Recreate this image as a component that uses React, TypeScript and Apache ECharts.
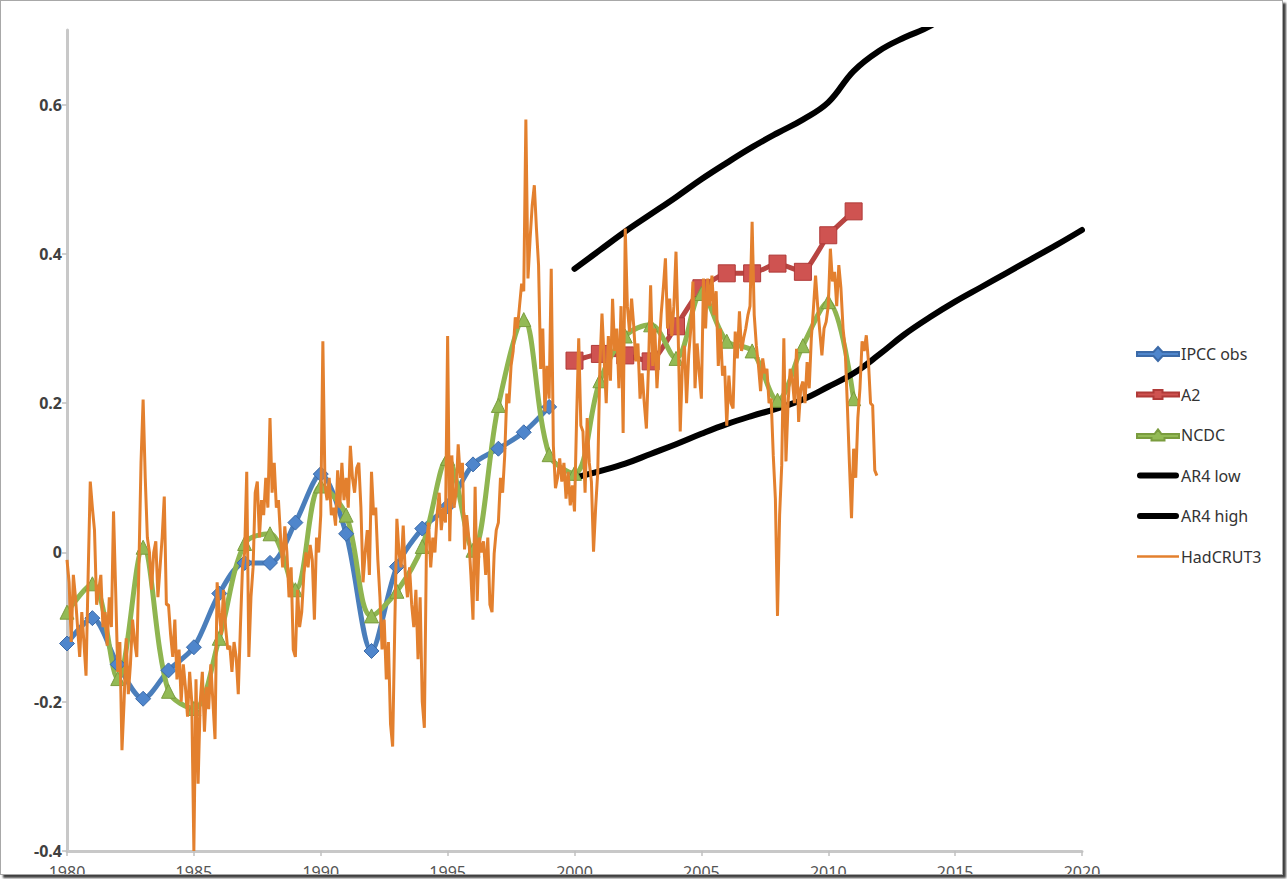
import React, { useEffect, useRef } from "react";
import * as echarts from "echarts";

// ---- Data ----
const ipccYears = [1980, 1981, 1982, 1983, 1984, 1985, 1986, 1987, 1988, 1989, 1990, 1991, 1992, 1993, 1994, 1995, 1996, 1997, 1998, 1999];
const ipccObs = [-0.122, -0.088, -0.15, -0.196, -0.158, -0.127, -0.055, -0.014, -0.014, 0.04, 0.105, 0.025, -0.132, -0.019, 0.032, 0.062, 0.118, 0.139, 0.161, 0.195];

const a2Years = [2000, 2001, 2002, 2003, 2004, 2005, 2006, 2007, 2008, 2009, 2010, 2011];
const a2 = [0.257, 0.266, 0.264, 0.256, 0.303, 0.354, 0.374, 0.374, 0.387, 0.376, 0.425, 0.457];

const ncdcYears = [1980, 1981, 1982, 1983, 1984, 1985, 1986, 1987, 1988, 1989, 1990, 1991, 1992, 1993, 1994, 1995, 1996, 1997, 1998, 1999, 2000, 2001, 2002, 2003, 2004, 2005, 2006, 2007, 2008, 2009, 2010, 2011];
const ncdc = [-0.08, -0.042, -0.169, 0.007, -0.186, -0.209, -0.115, 0.012, 0.025, -0.05, 0.089, 0.05, -0.085, -0.052, 0.008, 0.126, 0.003, 0.197, 0.312, 0.131, 0.106, 0.23, 0.29, 0.305, 0.26, 0.347, 0.283, 0.27, 0.204, 0.277, 0.336, 0.206];

const ar4LowYears = [2000, 2001, 2002, 2003, 2004, 2005, 2006, 2007, 2008, 2009, 2010, 2011, 2012, 2013, 2014, 2015, 2016, 2017, 2018, 2019, 2020];
const ar4Low = [0.1, 0.109, 0.119, 0.132, 0.145, 0.159, 0.172, 0.183, 0.193, 0.205, 0.222, 0.24, 0.265, 0.292, 0.315, 0.336, 0.355, 0.374, 0.393, 0.412, 0.432];

const ar4HighYears = [2000, 2001, 2002, 2003, 2004, 2005, 2006, 2007, 2008, 2009, 2010, 2011, 2012, 2013, 2014, 2015];
const ar4High = [0.38, 0.405, 0.43, 0.453, 0.476, 0.5, 0.522, 0.543, 0.562, 0.58, 0.603, 0.645, 0.672, 0.69, 0.705, 0.73];

// HadCRUT3 monthly anomalies, Jan 1980 .. Dec 2011 (12 per row)
const hadcrutStart = 1980;
const hadcrut3 = [
  -0.01, -0.04, -0.12, -0.03, -0.06, -0.1, -0.14, -0.08, -0.12, -0.165, -0.03, 0.095,
  0.06, 0.03, -0.07, -0.05, -0.03, -0.1, -0.08, -0.125, -0.06, -0.1, 0.055, -0.05,
  -0.16, -0.12, -0.265, -0.2, -0.115, -0.19, -0.15, -0.09, -0.12, -0.14, -0.02, 0.12,
  0.205, 0.1, 0.02, 0.0, -0.05, 0.0, 0.015, -0.06, -0.02, 0.02, 0.075, -0.07,
  -0.07, -0.11, -0.14, -0.09, -0.17, -0.13, -0.2, -0.15, -0.18, -0.22, -0.16, -0.2,
  -0.4, -0.17, -0.31, -0.2, -0.16, -0.24, -0.18, -0.21, -0.15, -0.2, -0.25, -0.04,
  -0.08, -0.11, -0.05, -0.1, -0.13, -0.125, -0.16, -0.12, -0.14, -0.19, -0.1, -0.02,
  0.0, 0.108, -0.14, -0.06, -0.02, 0.08, 0.095, 0.02, 0.07, 0.05, 0.1, 0.06,
  0.18, 0.08, 0.12, 0.06, 0.07, 0.02, -0.02, 0.035, 0.0, -0.06, -0.02, -0.13,
  -0.14, -0.05, -0.1, -0.08, -0.03, 0.0, -0.02, 0.01, -0.01, -0.09, 0.02, 0.0,
  0.05, 0.283, 0.09, 0.07, 0.1, 0.05, 0.06, 0.036, 0.11, 0.06, 0.12, 0.07,
  0.1, 0.06, 0.143, 0.1, 0.08, 0.113, 0.12, 0.06, -0.04, 0.0, 0.03, -0.03,
  0.108, 0.05, 0.06, -0.01, -0.06, -0.13, -0.09, -0.17, -0.12, -0.23, -0.26, -0.1,
  0.045, 0.0, -0.02, 0.036, -0.03, -0.06, -0.02, -0.07, -0.1, -0.05, -0.143, -0.06,
  -0.2, -0.235, 0.013, 0.04, -0.02, 0.02, 0.0, 0.05, 0.08, 0.03, 0.06, 0.04,
  0.29, 0.015, 0.13, 0.06, 0.08, 0.145, 0.1, 0.12, 0.004, 0.05, 0.02, -0.03,
  -0.09, 0.088, -0.065, 0.02, 0.0, 0.015, -0.03, 0.02, -0.07, -0.08, -0.002, 0.03,
  0.04, 0.1, 0.08, 0.13, 0.213, 0.2, 0.25, 0.27, 0.315, 0.3, 0.33, 0.36,
  0.35, 0.58, 0.367, 0.42, 0.465, 0.492, 0.434, 0.385, 0.246, 0.3, 0.189, 0.25,
  0.206, 0.38, 0.143, 0.086, 0.1, 0.126, 0.095, 0.12, 0.072, 0.108, 0.063, 0.09,
  0.055, 0.18, 0.287, 0.17, 0.162, 0.08, 0.18, 0.12, 0.095, 0.001, 0.06, 0.108,
  0.25, 0.32, 0.26, 0.2, 0.29, 0.23, 0.34, 0.27, 0.3, 0.22, 0.33, 0.16,
  0.434, 0.33, 0.296, 0.34, 0.304, 0.256, 0.28, 0.206, 0.24, 0.2, 0.166, 0.25,
  0.358, 0.25, 0.3, 0.22, 0.273, 0.32, 0.354, 0.394, 0.3, 0.34, 0.29, 0.33,
  0.403, 0.296, 0.162, 0.25, 0.277, 0.2, 0.264, 0.3, 0.363, 0.22, 0.28, 0.24,
  0.206, 0.367, 0.3, 0.367, 0.33, 0.371, 0.318, 0.35, 0.25, 0.3, 0.237, 0.25,
  0.17, 0.237, 0.2, 0.193, 0.296, 0.26, 0.323, 0.27, 0.287, 0.3, 0.318, 0.33,
  0.443, 0.318, 0.277, 0.25, 0.216, 0.26, 0.24, 0.246, 0.2, 0.206, 0.13, 0.072,
  -0.085, 0.05, 0.117, 0.287, 0.122, 0.2, 0.246, 0.233, 0.2, 0.273, 0.175, 0.22,
  0.229, 0.2, 0.255, 0.22, 0.287, 0.327, 0.371, 0.33, 0.296, 0.264, 0.3, 0.309,
  0.33, 0.407, 0.363, 0.376, 0.33, 0.385, 0.354, 0.3, 0.273, 0.2, 0.12, 0.046,
  0.139, 0.1, 0.18, 0.22, 0.283, 0.27, 0.291, 0.256, 0.2, 0.197, 0.11, 0.103,
];

const yTicks = [-0.4, -0.2, 0, 0.2, 0.4, 0.6];

const pair = (xs: number[], ys: number[]) => xs.map((x, i) => [x, ys[i]]);

// legend icons (line with marker), drawn in a 42-wide box
const iconDiamond = "path://M0,5H16.5L21,0L25.5,5H42V9H25.5L21,14L16.5,9H0Z";
const iconSquare = "path://M0,5H16.5V2.5H25.5V5H42V9H25.5V11.5H16.5V9H0Z";
const iconTriangle = "path://M0,5H17.5L21,0.5L24.5,5H42V9H27.5V11.5H14.5V9H0Z";
const iconThick = "path://M3,0H39A3,3 0 0 1 39,6H3A3,3 0 0 1 3,0Z";
const iconThin = "path://M0,0H42V2.5H0Z";

export default function App() {
  const ref = useRef<HTMLDivElement>(null);
  useEffect(() => {
    if (!ref.current) return;
    const chart = echarts.init(ref.current, undefined, { renderer: "svg" });
    const font = "Noto Sans";
    const hadData = hadcrut3.map((v, i) => [hadcrutStart + i / 12, v]);
    chart.setOption({
      animation: false,
      backgroundColor: "#ffffff",
      grid: { left: 67, right: 205, top: 30, bottom: 880 - 852, containLabel: false },
      legend: {
        orient: "vertical",
        left: 1131,
        top: 341,
        itemWidth: 42,
        itemHeight: 14,
        itemGap: 24.5,
        symbolKeepAspect: true,
        textStyle: { fontFamily: font, fontSize: 16, color: "#333", padding: [0, 0, 0, -3] },
        data: [
          { name: "IPCC obs", icon: iconDiamond },
          { name: "A2", icon: iconSquare },
          { name: "NCDC", icon: iconTriangle },
          { name: "AR4 low", icon: iconThick },
          { name: "AR4 high", icon: iconThick },
          { name: "HadCRUT3", icon: iconThin },
        ],
      },
      xAxis: {
        type: "value",
        min: 1980,
        max: 2020,
        interval: 5,
        axisLine: { show: true, onZero: false, lineStyle: { color: "#c8c8c8", width: 3 } },
        axisTick: { show: true, length: 5, lineStyle: { color: "#c0c0c0", width: 1.5 } },
        splitLine: { show: false },
        axisLabel: { color: "#555", fontFamily: font, fontSize: 16, margin: 13, formatter: (v: number) => String(v) },
      },
      yAxis: {
        type: "value",
        min: -0.4,
        max: 0.7,
        interval: 0.2,
        axisLine: { show: true, onZero: false, lineStyle: { color: "#c8c8c8", width: 3 } },
        axisTick: { show: true, length: 5, customValues: yTicks, lineStyle: { color: "#c0c0c0", width: 1.5 } },
        splitLine: { show: false },
        axisLabel: {
          color: "#404040",
          fontFamily: font,
          fontSize: 16,
          fontWeight: "bold",
          margin: 5,
          customValues: yTicks,
          formatter: (v: number) => String(Math.round(v * 10) / 10),
        },
      },
      series: [
        {
          name: "IPCC obs",
          type: "line",
          data: pair(ipccYears, ipccObs),
          smooth: 0.3,
          symbol: "diamond",
          symbolSize: 15,
          lineStyle: { color: "#4a7ebb", width: 5 },
          itemStyle: { color: "#4f86cc", borderColor: "#3b6aa8", borderWidth: 1 },
          z: 2,
        },
        {
          name: "A2",
          type: "line",
          data: pair(a2Years, a2),
          smooth: 0.15,
          symbol: "rect",
          symbolSize: 17,
          lineStyle: { color: "#b84542", width: 5 },
          itemStyle: { color: "#cf5351", borderColor: "#b03a38", borderWidth: 1 },
          z: 2,
        },
        {
          name: "NCDC",
          type: "line",
          data: pair(ncdcYears, ncdc),
          smooth: 0.35,
          symbol: "triangle",
          symbolSize: 14,
          lineStyle: { color: "#8fb550", width: 5 },
          itemStyle: { color: "#93ba55", borderColor: "#7a9c3e", borderWidth: 1 },
          z: 2,
        },
        {
          name: "AR4 low",
          type: "line",
          data: pair(ar4LowYears, ar4Low),
          smooth: 0.4,
          symbol: "none",
          lineStyle: { color: "#000000", width: 6, cap: "round" },
          itemStyle: { color: "#000000" },
          z: 2,
        },
        {
          name: "AR4 high",
          type: "line",
          data: pair(ar4HighYears, ar4High),
          smooth: 0.4,
          symbol: "none",
          lineStyle: { color: "#000000", width: 6, cap: "round" },
          itemStyle: { color: "#000000" },
          z: 2,
        },
        {
          name: "HadCRUT3",
          type: "line",
          data: hadData,
          symbol: "none",
          lineStyle: { color: "#e3802e", width: 3 },
          itemStyle: { color: "#e3802e" },
          z: 3,
        },
      ],
    });
    return () => chart.dispose();
  }, []);

  return (
    <div
      style={{
        position: "absolute",
        left: 0,
        top: 0,
        width: 1281,
        height: 873,
        border: "1px solid #a8a8a8",
        boxShadow: "3px 3px 2px rgba(0,0,0,0.75)",
        overflow: "hidden",
        background: "#fff",
      }}
    >
      <div ref={ref} style={{ position: "absolute", left: -1, top: -1, width: 1287, height: 880 }} />
    </div>
  );
}
